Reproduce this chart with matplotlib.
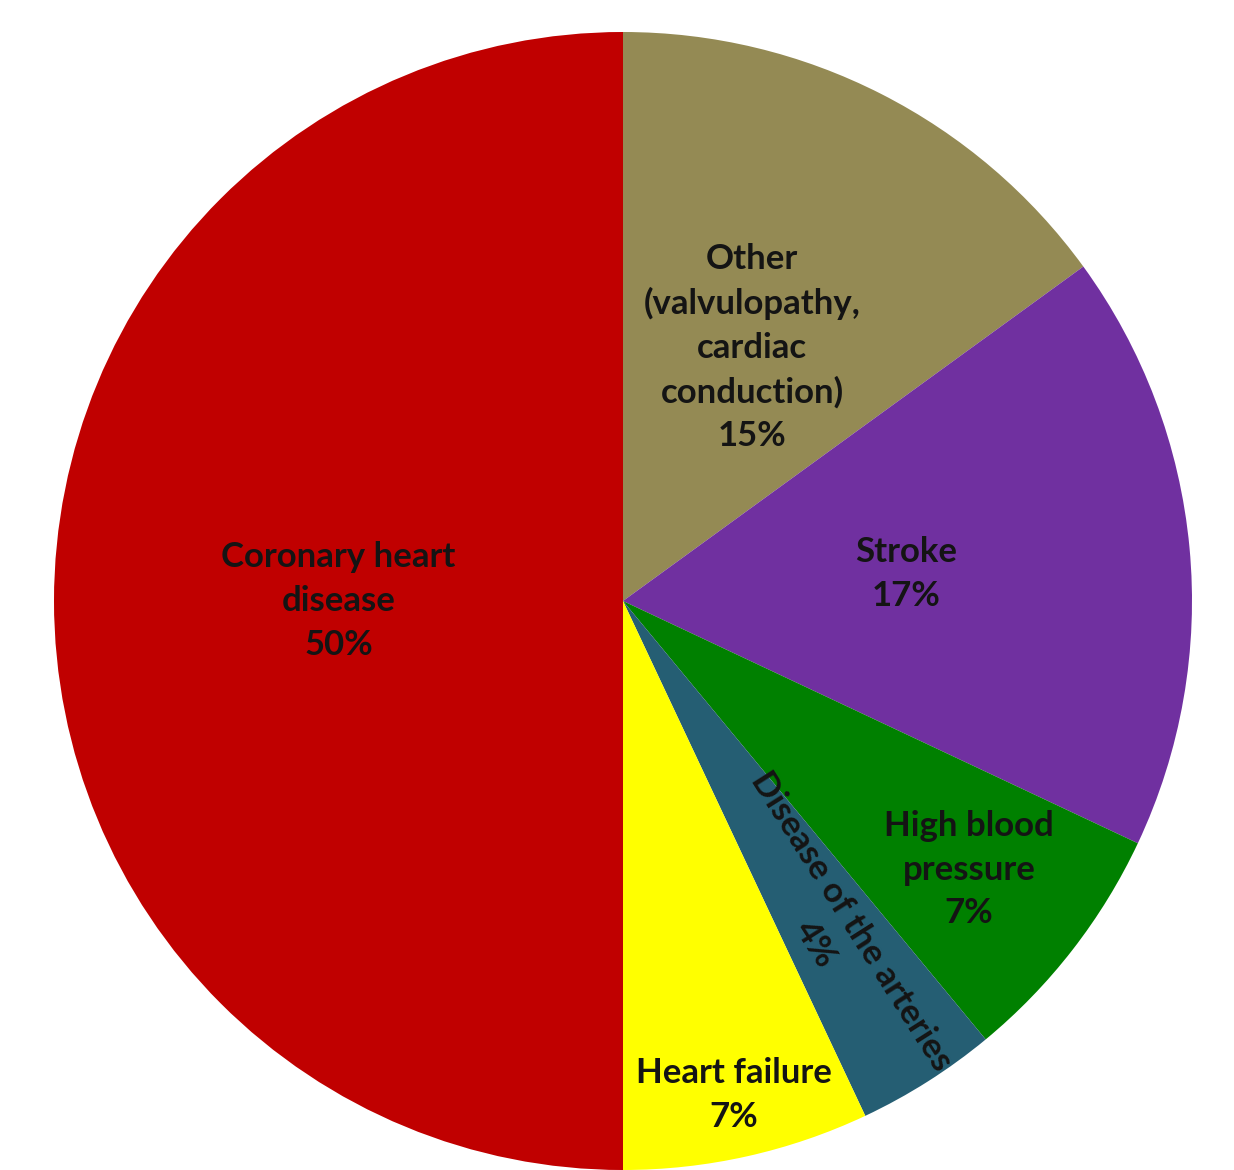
import matplotlib
matplotlib.use("Agg")
import matplotlib.pyplot as plt
import numpy as np

# slices clockwise from 12 o'clock
causes = [
    "Other\n(valvulopathy,\ncardiac\nconduction)",
    "Stroke",
    "High blood\npressure",
    "Disease of the arteries",
    "Heart failure",
    "Coronary heart\ndisease",
]
shares = [15, 17, 7, 4, 7, 50]
colors = ["#948A54", "#7030A0", "#008000", "#255E73", "#FFFF00", "#C00000"]

# how far out each label sits (fraction of radius)
label_radius = [0.50, 0.50, 0.77, 0.69, 0.89, 0.50]
radial_labels = [False, False, False, True, False, False]

W, H = 1234, 1170
fig = plt.figure(figsize=(W / 100, H / 100), dpi=100)
cx, cy, r = 623, 601, 569
ax = fig.add_axes([(cx - r) / W, (H - cy - r) / H, 2 * r / W, 2 * r / H])

wedges, _ = ax.pie(
    shares,
    colors=colors,
    startangle=90,
    counterclock=False,
    radius=1,
    wedgeprops=dict(linewidth=0),
)
ax.set_xlim(-1, 1)
ax.set_ylim(-1, 1)
ax.axis("off")

for wedge, name, share, rad, radial in zip(wedges, causes, shares, label_radius, radial_labels):
    mid = np.deg2rad((wedge.theta1 + wedge.theta2) / 2)
    x, y = rad * np.cos(mid), rad * np.sin(mid)
    rot = np.rad2deg(mid) if radial else 0
    ax.text(
        x, y, f"{name}\n{share}%",
        ha="center", va="center", rotation=rot, rotation_mode="anchor",
        multialignment="center", linespacing=1.45,
        fontsize=25, fontweight="bold", family=["Lato", "DejaVu Sans"],
        color="#141414",
    )

fig.savefig("out.png", dpi=100)
